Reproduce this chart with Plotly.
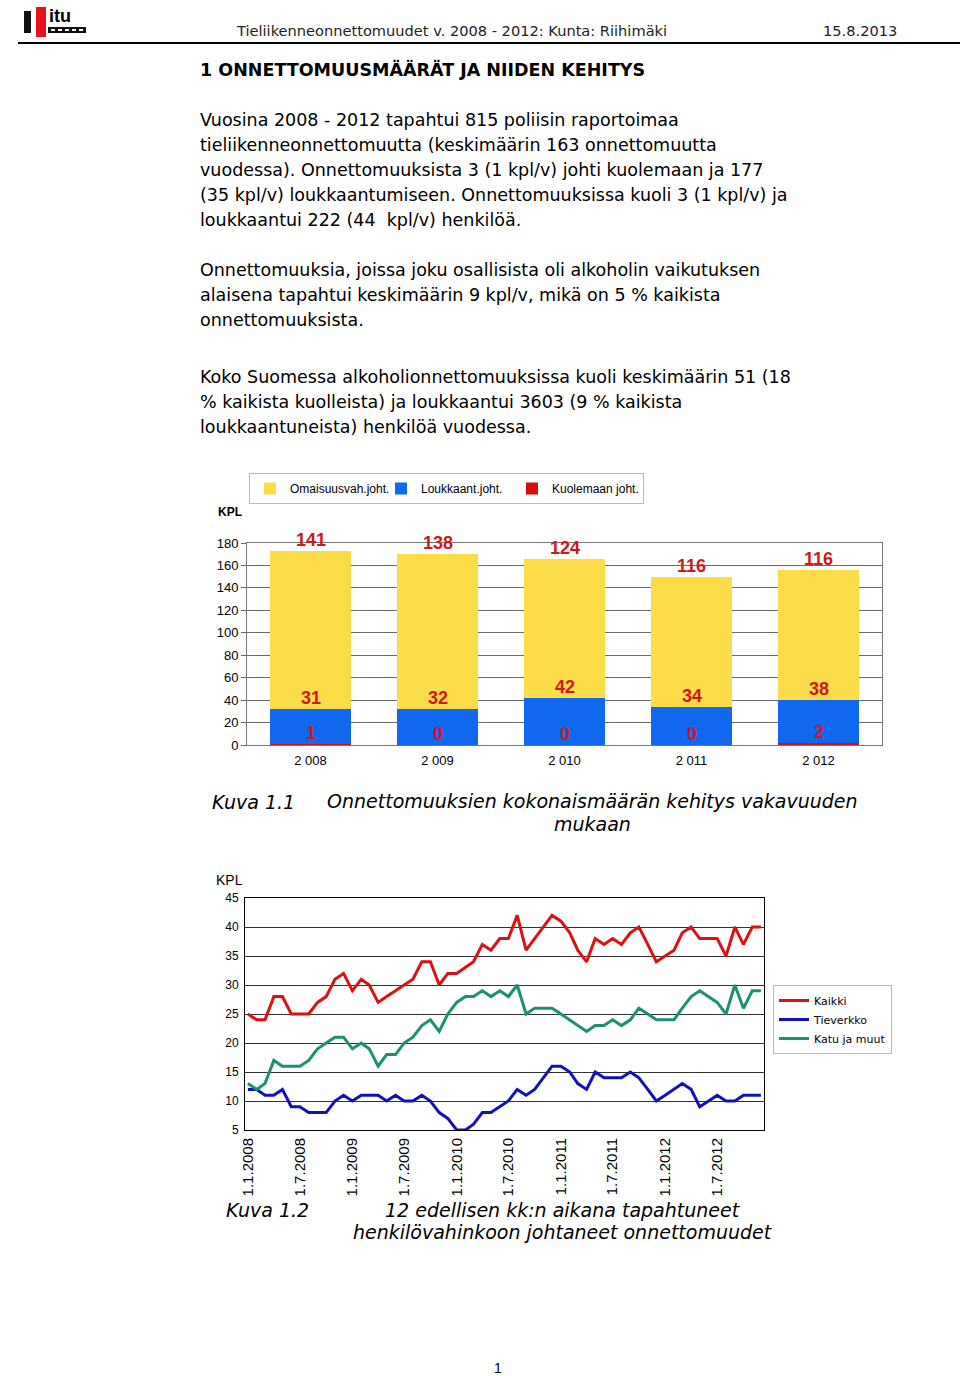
import plotly.graph_objects as go

W, H = 960, 1376

# ---------------- data ----------------
years = ["2 008", "2 009", "2 010", "2 011", "2 012"]
kuolemaan = [1, 0, 0, 0, 2]
loukkaant = [31, 32, 42, 34, 38]
omaisuus = [141, 138, 124, 116, 116]

bar_ticks = [0, 20, 40, 60, 80, 100, 120, 140, 160, 180]

months = [f"{y}-{m:02d}-01" for y in range(2008, 2013) for m in range(1, 13)]
kaikki = [25, 24, 24, 28, 28, 25, 25, 25, 27, 28, 31, 32, 29, 31, 30, 27, 28, 29, 30, 31,
          34, 34, 30, 32, 32, 33, 34, 37, 36, 38, 38, 42, 36, 38, 40, 42, 41, 39, 36, 34,
          38, 37, 38, 37, 39, 40, 37, 34, 35, 36, 39, 40, 38, 38, 38, 35, 40, 37, 40, 40]
tieverkko = [12, 12, 11, 11, 12, 9, 9, 8, 8, 8, 10, 11, 10, 11, 11, 11, 10, 11, 10, 10,
             11, 10, 8, 7, 5, 5, 6, 8, 8, 9, 10, 12, 11, 12, 14, 16, 16, 15, 13, 12,
             15, 14, 14, 14, 15, 14, 12, 10, 11, 12, 13, 12, 9, 10, 11, 10, 10, 11, 11, 11]
katu = [13, 12, 13, 17, 16, 16, 16, 17, 19, 20, 21, 21, 19, 20, 19, 16, 18, 18, 20, 21,
        23, 24, 22, 25, 27, 28, 28, 29, 28, 29, 28, 30, 25, 26, 26, 26, 25, 24, 23, 22,
        23, 23, 24, 23, 24, 26, 25, 24, 24, 24, 26, 28, 29, 28, 27, 25, 30, 26, 29, 29]

line_tickvals = ["2008-01-01", "2008-07-01", "2009-01-01", "2009-07-01", "2010-01-01",
                 "2010-07-01", "2011-01-01", "2011-07-01", "2012-01-01", "2012-07-01"]
line_ticktext = ["1.1.2008", "1.7.2008", "1.1.2009", "1.7.2009", "1.1.2010",
                 "1.7.2010", "1.1.2011", "1.7.2011", "1.1.2012", "1.7.2012"]
line_yticks = [5, 10, 15, 20, 25, 30, 35, 40, 45]

# ---------------- helpers ----------------
def px(x):
    return x / W

def py(y):
    return 1 - y / H

BODY = "DejaVu Sans, Verdana, sans-serif"
ARIAL = "Liberation Sans, Arial, sans-serif"
NARROW = "Liberation Sans Narrow, Arial Narrow, Liberation Sans, sans-serif"

YEL = "#FCDC48"
BLU = "#0F68EE"
RED = "#DD0A0A"
LBL = "#D01818"

fig = go.Figure()

# ---------------- bar chart ----------------
fig.add_trace(go.Bar(x=years, y=kuolemaan, name="Kuolemaan joht.", marker_color=RED,
                     marker_line_width=0, legend="legend", legendrank=3,
                     xaxis="x", yaxis="y"))
fig.add_trace(go.Bar(x=years, y=loukkaant, name="Loukkaant.joht.", marker_color=BLU,
                     marker_line_width=0, legend="legend", legendrank=2,
                     xaxis="x", yaxis="y"))
fig.add_trace(go.Bar(x=years, y=omaisuus, name="Omaisuusvah.joht.", marker_color=YEL,
                     marker_line_width=0, legend="legend", legendrank=1,
                     xaxis="x", yaxis="y"))

annotations = []
for i, yr in enumerate(years):
    c1 = kuolemaan[i]
    c2 = c1 + loukkaant[i]
    c3 = c2 + omaisuus[i]
    for val, top in ((kuolemaan[i], c1), (loukkaant[i], c2), (omaisuus[i], c3)):
        annotations.append(dict(x=yr, y=top, xref="x", yref="y", text=f"<b>{val}</b>",
                                showarrow=False, yanchor="bottom", yshift=-1,
                                font=dict(family=NARROW, size=18, color=LBL)))

# ---------------- line chart ----------------
fig.add_trace(go.Scatter(x=months, y=kaikki, name="Kaikki", mode="lines",
                         line=dict(color="#DD1111", width=3), legend="legend2",
                         xaxis="x2", yaxis="y2"))
fig.add_trace(go.Scatter(x=months, y=tieverkko, name="Tieverkko", mode="lines",
                         line=dict(color="#1010C0", width=3), legend="legend2",
                         xaxis="x2", yaxis="y2"))
fig.add_trace(go.Scatter(x=months, y=katu, name="Katu ja muut", mode="lines",
                         line=dict(color="#1E9070", width=3), legend="legend2",
                         xaxis="x2", yaxis="y2"))

# ---------------- page text ----------------
def txt(x, y, s, size=17, family=BODY, color="#000", xanchor="left", yanchor="middle"):
    annotations.append(dict(x=px(x), y=py(y), xref="paper", yref="paper", text=s,
                            showarrow=False, xanchor=xanchor, yanchor=yanchor,
                            borderpad=0, borderwidth=0,
                            font=dict(family=family, size=size, color=color)))

txt(236, 31, "Tieliikenneonnettomuudet v. 2008 - 2012: Kunta: Riihimäki", size=14.6, color="#222")
txt(897, 31, "15.8.2013", size=14.6, color="#222", xanchor="right")
txt(200, 70, "<b>1 ONNETTOMUUSMÄÄRÄT JA NIIDEN KEHITYS</b>", size=17.5)

para = [
    (120, "Vuosina 2008 - 2012 tapahtui 815 poliisin raportoimaa"),
    (145, "tieliikenneonnettomuutta (keskimäärin 163 onnettomuutta"),
    (170, "vuodessa). Onnettomuuksista 3 (1 kpl/v) johti kuolemaan ja 177"),
    (195, "(35 kpl/v) loukkaantumiseen. Onnettomuuksissa kuoli 3 (1 kpl/v) ja"),
    (220, "loukkaantui 222 (44  kpl/v) henkilöä."),
    (270, "Onnettomuuksia, joissa joku osallisista oli alkoholin vaikutuksen"),
    (295, "alaisena tapahtui keskimäärin 9 kpl/v, mikä on 5 % kaikista"),
    (320, "onnettomuuksista."),
    (377, "Koko Suomessa alkoholionnettomuuksissa kuoli keskimäärin 51 (18"),
    (402, "% kaikista kuolleista) ja loukkaantui 3603 (9 % kaikista"),
    (427, "loukkaantuneista) henkilöä vuodessa."),
]
for y, s in para:
    txt(200, y, s, size=17.5)

txt(218, 512, "<b>KPL</b>", size=12, family=ARIAL)
txt(212, 802, "<i>Kuva 1.1</i>", size=19)
txt(592, 801, "<i>Onnettomuuksien kokonaismäärän kehitys vakavuuden</i>", size=19, xanchor="center")
txt(592, 824, "<i>mukaan</i>", size=19, xanchor="center")

txt(216, 880, "KPL", size=14, family=ARIAL)
txt(226, 1210, "<i>Kuva 1.2</i>", size=19)
txt(563, 1210, "<i>12 edellisen kk:n aikana tapahtuneet</i>", size=19, xanchor="center")
txt(563, 1232, "<i>henkilövahinkoon johtaneet onnettomuudet</i>", size=19, xanchor="center")
txt(494, 1368, "1", size=14, family=ARIAL)

# logo text
txt(49, 16, "<b>itu</b>", size=18, family=ARIAL)

shapes = [
    # header rule
    dict(type="line", xref="paper", yref="paper", x0=px(18), x1=1, y0=py(43), y1=py(43),
         line=dict(color="#000", width=2)),
    # logo
    dict(type="rect", xref="paper", yref="paper", x0=px(24), x1=px(31), y0=py(33), y1=py(11),
         fillcolor="#111", line_width=0),
    dict(type="rect", xref="paper", yref="paper", x0=px(36), x1=px(46), y0=py(37), y1=py(7),
         fillcolor="#E8101A", line_width=0),
    dict(type="rect", xref="paper", yref="paper", x0=px(48), x1=px(86), y0=py(33), y1=py(27),
         fillcolor="#111", line_width=0),
]
for k in range(5):
    x0 = 51 + k * 7
    shapes.append(dict(type="rect", xref="paper", yref="paper", x0=px(x0), x1=px(x0 + 4),
                       y0=py(31), y1=py(29), fillcolor="#fff", line_width=0))

fig.update_layout(
    template="none",
    width=W, height=H,
    margin=dict(l=0, r=0, t=0, b=0, pad=0, autoexpand=False),
    paper_bgcolor="#fff", plot_bgcolor="#fff",
    barmode="stack", bargap=0.36,
    showlegend=True,
    annotations=annotations,
    shapes=shapes,
    xaxis=dict(domain=[px(247), px(882)], anchor="y", type="category",
               showgrid=False, automargin=False,
               showline=True, linecolor="#777", linewidth=1, mirror=True,
               ticks="outside", ticklen=3, tickcolor="rgba(0,0,0,0)",
               tickfont=dict(family=ARIAL, size=13, color="#000")),
    yaxis=dict(domain=[py(745), py(543)], anchor="x", range=[0, 180], automargin=False,
               tickvals=bar_ticks, showgrid=True, gridcolor="#6A6A6A", gridwidth=1,
               showline=True, linecolor="#777", linewidth=1, mirror=True,
               ticks="outside", ticklen=5, tickcolor="#6A6A6A",
               tickfont=dict(family=ARIAL, size=13, color="#000"), zeroline=False),
    xaxis2=dict(domain=[px(245), px(764)], anchor="y2", type="date", automargin=False,
                range=["2007-12-22", "2012-12-12"],
                tickvals=line_tickvals, ticktext=line_ticktext, tickangle=-90,
                showgrid=False, showline=True, linecolor="#000", linewidth=1, mirror=True,
                ticks="outside", ticklen=1, tickcolor="rgba(0,0,0,0)",
                tickfont=dict(family=ARIAL, size=15, color="#000")),
    yaxis2=dict(domain=[py(1130), py(898)], anchor="x2", range=[5, 45], automargin=False,
                tickvals=line_yticks, showgrid=True, gridcolor="#333", gridwidth=1,
                showline=True, linecolor="#000", linewidth=1, mirror=True,
                ticks="outside", ticklen=3, tickcolor="rgba(0,0,0,0)",
                tickfont=dict(family=ARIAL, size=12, color="#000"), zeroline=False),
    legend=dict(orientation="h", x=px(249), y=py(473), xanchor="left", yanchor="top",
                bordercolor="#BBB", borderwidth=1, bgcolor="#fff",
                font=dict(family=ARIAL, size=12, color="#000"),
                entrywidth=86, itemwidth=30, traceorder="normal"),
    legend2=dict(orientation="v", x=px(773), y=py(985), xanchor="left", yanchor="top",
                 bordercolor="#BBB", borderwidth=1, bgcolor="#fff",
                 font=dict(family=BODY, size=11, color="#000"),
                 itemwidth=30, tracegroupgap=0),
)

fig.write_html("out.html")
